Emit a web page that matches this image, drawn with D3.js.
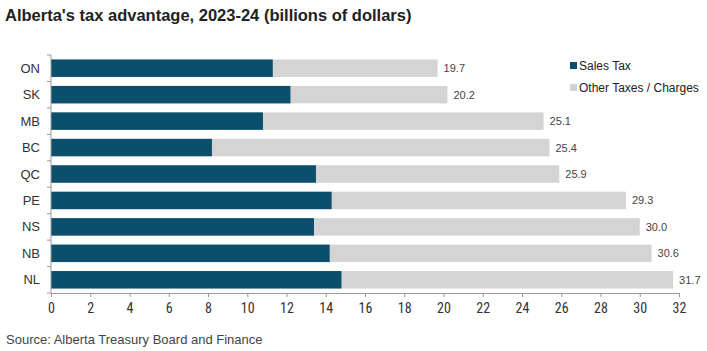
<!DOCTYPE html>
<html>
<head>
<meta charset="utf-8">
<script src="https://cdn.jsdelivr.net/npm/d3@7"></script>
<style>
  body { margin: 0; background: #fff; }
  svg { font-family: "Liberation Sans", Arial, sans-serif; }
</style>
</head>
<body>
<svg id="chart" width="707" height="351"></svg>
<script>
// data
const provinces = ["ON", "SK", "MB", "BC", "QC", "PE", "NS", "NB", "NL"];
const salesTax = [11.3, 12.2, 10.8, 8.2, 13.5, 14.3, 13.4, 14.2, 14.8];
const totals = [19.7, 20.2, 25.1, 25.4, 25.9, 29.3, 30.0, 30.6, 31.7];
const xTicks = d3.range(0, 33, 2);
const seriesNames = ["Sales Tax", "Other Taxes / Charges"];
const colors = ["#0b4f6c", "#d4d4d4"];

const margin = {top: 55, right: 28, bottom: 58, left: 51};
const width = 707 - margin.left - margin.right;
const height = 351 - margin.top - margin.bottom;

const svg = d3.select("#chart");

svg.append("text")
  .attr("x", 5).attr("y", 21)
  .attr("font-size", 16.5).attr("font-weight", "bold")
  .attr("fill", "#222")
  .text("Alberta's tax advantage, 2023-24 (billions of dollars)");

svg.append("text")
  .attr("x", 6).attr("y", 344)
  .attr("font-size", 13).attr("fill", "#444")
  .text("Source: Alberta Treasury Board and Finance");

const g = svg.append("g").attr("transform", `translate(${margin.left},${margin.top})`);

const x = d3.scaleLinear().domain([0, 32]).range([0, width]);
const y = d3.scaleBand().domain(provinces).range([0, height]).paddingInner(0.34).paddingOuter(0.17);

const rows = provinces.map((p, i) => ({p, sales: salesTax[i], total: totals[i]}));

// other taxes (full total bar behind)
g.selectAll(".other").data(rows).join("rect")
  .attr("class", "other")
  .attr("x", x(0)).attr("y", d => y(d.p))
  .attr("width", d => x(d.total) - x(0)).attr("height", y.bandwidth())
  .attr("fill", colors[1]);

g.selectAll(".sales").data(rows).join("rect")
  .attr("class", "sales")
  .attr("x", x(0)).attr("y", d => y(d.p))
  .attr("width", d => x(d.sales) - x(0)).attr("height", y.bandwidth())
  .attr("fill", colors[0]);

g.selectAll(".val").data(rows).join("text")
  .attr("class", "val")
  .attr("x", d => x(d.total) + 6)
  .attr("y", d => y(d.p) + y.bandwidth() / 2 + 4)
  .attr("font-size", 11).attr("fill", "#444")
  .text(d => d.total.toFixed(1));

// x axis
const xAxis = g.append("g").attr("transform", `translate(0,${height})`)
  .call(d3.axisBottom(x).tickValues(xTicks).tickSize(4).tickSizeOuter(0));
xAxis.select(".domain").attr("stroke", "#999");
xAxis.selectAll(".tick line").attr("stroke", "#999");
xAxis.selectAll(".tick text")
  .attr("font-size", 14).attr("fill", "#333").attr("dy", "0.95em")
  .attr("font-family", "'Liberation Sans Narrow', 'Roboto Condensed', Arial, sans-serif");

// y axis: line plus ticks at band boundaries
const yAxis = g.append("g");
yAxis.append("line")
  .attr("x1", 0).attr("x2", 0).attr("y1", 0).attr("y2", height)
  .attr("stroke", "#999");
const step = y.step();
const bounds = d3.range(provinces.length + 1).map(i => y.range()[0] + y.paddingOuter() * step - y.paddingInner() * step / 2 + i * step);
yAxis.selectAll(".ytick").data(bounds).join("line")
  .attr("x1", -4).attr("x2", 0)
  .attr("y1", d => d).attr("y2", d => d)
  .attr("stroke", "#999");
yAxis.selectAll(".ylab").data(provinces).join("text")
  .attr("x", -11).attr("y", d => y(d) + y.bandwidth() / 2 + 4.5)
  .attr("text-anchor", "end").attr("font-size", 13).attr("fill", "#333")
  .text(d => d);

// legend
const legend = svg.append("g").attr("transform", "translate(570,60)");
seriesNames.forEach((name, i) => {
  const lg = legend.append("g").attr("transform", `translate(0,${i * 22})`);
  lg.append("rect").attr("x", 0).attr("y", 2).attr("width", 7).attr("height", 7).attr("fill", colors[i]);
  lg.append("text").attr("x", 9).attr("y", 10).attr("font-size", 12).attr("fill", "#222").text(name);
});
</script>
</body>
</html>
